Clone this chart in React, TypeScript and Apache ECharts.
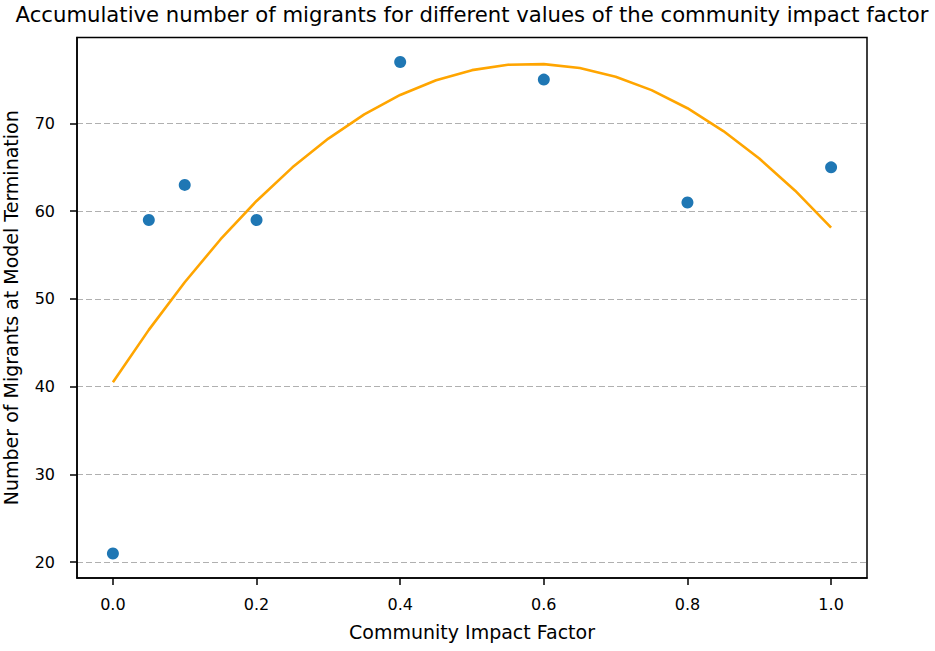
import React, { useEffect, useRef } from "react";
import * as echarts from "echarts";

const TITLE = "Accumulative number of migrants for different values of the community impact factor";
const X_NAME = "Community Impact Factor";
const Y_NAME = "Number of Migrants at Model Termination";

const impactFactors = [0.0, 0.05, 0.1, 0.2, 0.4, 0.6, 0.8, 1.0];
const migrants = [21, 59, 63, 59, 77, 75, 61, 65];

const fitX = [0, 0.05, 0.1, 0.15, 0.2, 0.25, 0.3, 0.35, 0.4, 0.45, 0.5, 0.55, 0.6, 0.65, 0.7, 0.75, 0.8, 0.85, 0.9, 0.95, 1.0];
const fitY = [40.52, 46.48, 51.91, 56.81, 61.17, 65.0, 68.28, 71.03, 73.25, 74.93, 76.08, 76.7, 76.77, 76.32, 75.33, 73.8, 71.74, 69.14, 66.01, 62.34, 58.14];

const xTicks = [0, 0.2, 0.4, 0.6, 0.8, 1.0];
const yTicks = [20, 30, 40, 50, 60, 70];

const FONT = "DejaVu Sans";

export default function App() {
  const ref = useRef<HTMLDivElement>(null);
  useEffect(() => {
    if (!ref.current) return;
    const chart = echarts.init(ref.current, null, { renderer: "svg" });
    chart.setOption({
      animation: false,
      backgroundColor: "#ffffff",
      textStyle: { fontFamily: FONT },
      title: {
        text: TITLE,
        left: 472,
        top: 4,
        textAlign: "center",
        padding: 0,
        textStyle: { fontFamily: FONT, fontSize: 21.2, fontWeight: "normal", color: "#000" },
      },
      grid: { left: 77, right: 68, top: 37.5, bottom: 73, containLabel: false, outerBoundsMode: "none" },
      xAxis: {
        type: "value",
        min: -0.05,
        max: 1.05,
        name: X_NAME,
        nameLocation: "middle",
        nameGap: 44,
        nameTextStyle: { fontFamily: FONT, fontSize: 19, color: "#000" },
        axisLine: { show: true, onZero: false, lineStyle: { color: "#000", width: 1.5 } },
        axisTick: { show: true, length: 7, lineStyle: { color: "#000", width: 1.5 }, customValues: xTicks },
        axisLabel: {
          margin: 18,
          fontFamily: FONT,
          fontSize: 16,
          color: "#000",
          customValues: xTicks,
          formatter: (v: number) => v.toFixed(1),
        },
        splitLine: { show: false },
      },
      yAxis: {
        type: "value",
        min: 18.2,
        max: 79.8,
        name: Y_NAME,
        nameLocation: "middle",
        nameGap: 57,
        nameTextStyle: { fontFamily: FONT, fontSize: 19, color: "#000" },
        axisLine: { show: true, onZero: false, lineStyle: { color: "#000", width: 1.5 } },
        axisTick: { show: true, length: 7, lineStyle: { color: "#000", width: 1.5 }, customValues: yTicks },
        axisLabel: {
          margin: 22,
          fontFamily: FONT,
          fontSize: 16,
          color: "#000",
          customValues: yTicks,
          formatter: (v: number) => String(Math.round(v)),
        },
        splitLine: { show: true, lineStyle: { color: "#b0b0b0", width: 1.2, type: [6, 3] } },
      },
      graphic: [
        {
          type: "rect",
          shape: { x: 77, y: 37.5, width: 790, height: 540.5 },
          style: { fill: "none", stroke: "#000", lineWidth: 1.5 },
          z: 100,
          silent: true,
        },
      ],
      series: [
        {
          type: "scatter",
          data: impactFactors.map((x, i) => [x, migrants[i]]),
          symbol: "circle",
          symbolSize: 12,
          itemStyle: { color: "#1f77b4", opacity: 1 },
          z: 2,
        },
        {
          type: "line",
          data: fitX.map((x, i) => [x, fitY[i]]),
          showSymbol: false,
          symbol: "none",
          smooth: false,
          lineStyle: { color: "#ffa500", width: 2.6, join: "round" },
          z: 3,
        },
      ],
    });
    return () => chart.dispose();
  }, []);
  return <div ref={ref} style={{ position: "fixed", left: 0, top: 0, width: 935, height: 651 }} />;
}
